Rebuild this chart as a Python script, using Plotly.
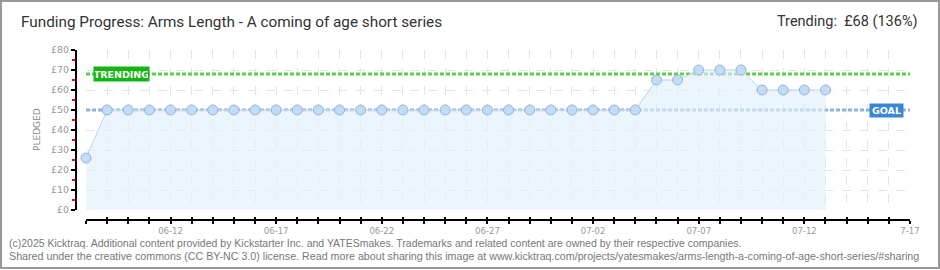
import plotly.graph_objects as go
import pandas as pd

# ---- data ----
dates = [d.strftime("%Y-%m-%d") for d in pd.date_range("2025-06-08", "2025-07-13", freq="D")]
pledged = [26,
           50, 50, 50, 50, 50, 50, 50, 50, 50, 50, 50, 50, 50,
           50, 50, 50, 50, 50, 50, 50, 50, 50, 50, 50, 50, 50,
           65, 65, 70, 70, 70, 60, 60, 60, 60]
goal = 50
trending = 68
y_ticks = [0, 10, 20, 30, 40, 50, 60, 70, 80]
y_labels = ["£0", "£10", "£20", "£30", "£40", "£50", "£60", "£70", "£80"]
y_minor = [5, 15, 25, 35, 45, 55, 65, 75]
axis_days = [d.strftime("%Y-%m-%d") for d in pd.date_range("2025-06-08", "2025-07-17", freq="D")]
tick_labels = {"2025-06-12": "06-12", "2025-06-17": "06-17", "2025-06-22": "06-22",
               "2025-06-27": "06-27", "2025-07-02": "07-02", "2025-07-07": "07-07",
               "2025-07-12": "07-12", "2025-07-17": "7-17"}
x_start, x_end = "2025-06-08", "2025-07-17"

# ---- geometry helpers (pixels -> paper) ----
W, H = 940, 270
L, R, T, B = 76, 30, 50, 50
PW, PH = W - L - R, H - T - B
def px(x):
    return (x - L) / PW
def py(y):
    return (H - B - y) / PH

fig = go.Figure()

# goal line
fig.add_trace(go.Scatter(x=[x_start, x_end], y=[goal, goal], mode="lines",
                         line=dict(color="#8fb3dc", width=3, dash="4px,2px"),
                         hoverinfo="skip", showlegend=False))
# trending line
fig.add_trace(go.Scatter(x=[x_start, x_end], y=[trending, trending], mode="lines",
                         line=dict(color="#5ccf4c", width=3, dash="4px,2px"),
                         hoverinfo="skip", showlegend=False))
# pledged
fig.add_trace(go.Scatter(x=dates, y=pledged, mode="lines+markers", fill="tozeroy",
                         fillcolor="rgba(226,238,252,0.65)", cliponaxis=False,
                         line=dict(color="#b7d6f4", width=1),
                         marker=dict(size=10, color="#c3dcf5", line=dict(color="#98b4d2", width=1)),
                         showlegend=False))
# dummy for upper tick axis
fig.add_trace(go.Scatter(x=[x_start], y=[None], xaxis="x2", mode="markers",
                         showlegend=False, hoverinfo="skip"))

ticktext = [tick_labels.get(d, "") for d in axis_days]

fig.update_layout(
    width=W, height=H,
    margin=dict(l=L, r=R, t=T, b=B),
    paper_bgcolor="white", plot_bgcolor="white",
    xaxis=dict(type="date", range=[x_start, x_end], domain=[10 / PW, 1],
               anchor="free", position=0,
               tickvals=axis_days, ticktext=ticktext,
               ticks="outside", ticklen=3, tickcolor="black", tickwidth=1.5,
               showline=True, linecolor="black", linewidth=2,
               showgrid=True, gridcolor="#e4e4e4", griddash="dash", gridwidth=1,
               tickfont=dict(family="DejaVu Sans", size=8.5, color="#999999"),
               zeroline=False, fixedrange=True),
    xaxis2=dict(type="date", range=[x_start, x_end], overlaying="x",
                anchor="free", position=0,
                tickvals=axis_days, ticks="inside", ticklen=3, tickcolor="black", tickwidth=1.5,
                showticklabels=False, showgrid=False, showline=False, zeroline=False),
    yaxis=dict(range=[0, 80], domain=[10 / PH, 1], anchor="free", position=0,
               tickvals=y_ticks, ticktext=y_labels,
               ticks="outside", ticklen=4, tickcolor="black", tickwidth=1.5,
               minor=dict(tickvals=y_minor, ticks="outside",
                          ticklen=3, tickcolor="red", tickwidth=1.5, showgrid=False),
               showline=True, linecolor="black", linewidth=2,
               showgrid=True, gridcolor="#e4e4e4", griddash="dash", gridwidth=1,
               tickfont=dict(family="DejaVu Sans", size=9.5, color="#999999"),
               zeroline=False, fixedrange=True),
)

annotations = [
    dict(text="Funding Progress: Arms Length - A coming of age short series",
         xref="paper", yref="paper", x=px(19), y=py(22), xanchor="left", yanchor="middle",
         showarrow=False, font=dict(family="Roboto, sans-serif", size=15.3, color="#333333")),
    dict(text="Trending:  £68 (136%)",
         xref="paper", yref="paper", x=px(920), y=py(22), xanchor="right", yanchor="middle",
         showarrow=False, font=dict(family="Roboto, sans-serif", size=14.5, color="#333333")),
    dict(text="(c)2025 Kicktraq. Additional content provided by Kickstarter Inc. and YATESmakes. Trademarks and related content are owned by their respective companies.",
         xref="paper", yref="paper", x=px(7), y=py(243), xanchor="left", yanchor="middle",
         showarrow=False, font=dict(family="Liberation Sans, Arial, sans-serif", size=10.5, color="#777777")),
    dict(text="Shared under the creative commons (CC BY-NC 3.0) license. Read more about sharing this image at www.kicktraq.com/projects/yatesmakes/arms-length-a-coming-of-age-short-series/#sharing",
         xref="paper", yref="paper", x=px(7), y=py(256), xanchor="left", yanchor="middle",
         showarrow=False, font=dict(family="Liberation Sans, Arial, sans-serif", size=10.7, color="#777777")),
    dict(text="PLEDGED", textangle=-90,
         xref="paper", yref="paper", x=px(37), y=py(130), xanchor="center", yanchor="middle",
         showarrow=False, font=dict(family="DejaVu Sans", size=9, color="#888888")),
    dict(text="<b>TRENDING</b>", xref="x", yref="y", x=x_start, y=trending, xshift=7,
         xanchor="left", yanchor="middle", showarrow=False, width=53, height=12,
         bgcolor="#13b513", borderpad=1, font=dict(family="DejaVu Sans", size=9.5, color="white")),
    dict(text="<b>GOAL</b>", xref="x", yref="y", x=x_end, y=goal, xshift=-6,
         xanchor="right", yanchor="middle", showarrow=False, width=31, height=11,
         bgcolor="#3a87d6", borderpad=1, font=dict(family="DejaVu Sans", size=9.5, color="white")),
]
fig.update_layout(annotations=annotations)

fig.add_shape(type="rect", xref="paper", yref="paper",
              x0=px(1), x1=px(939), y0=py(268), y1=py(1),
              line=dict(color="#999999", width=2), fillcolor="rgba(0,0,0,0)", layer="above")

fig.write_html("out.html")
